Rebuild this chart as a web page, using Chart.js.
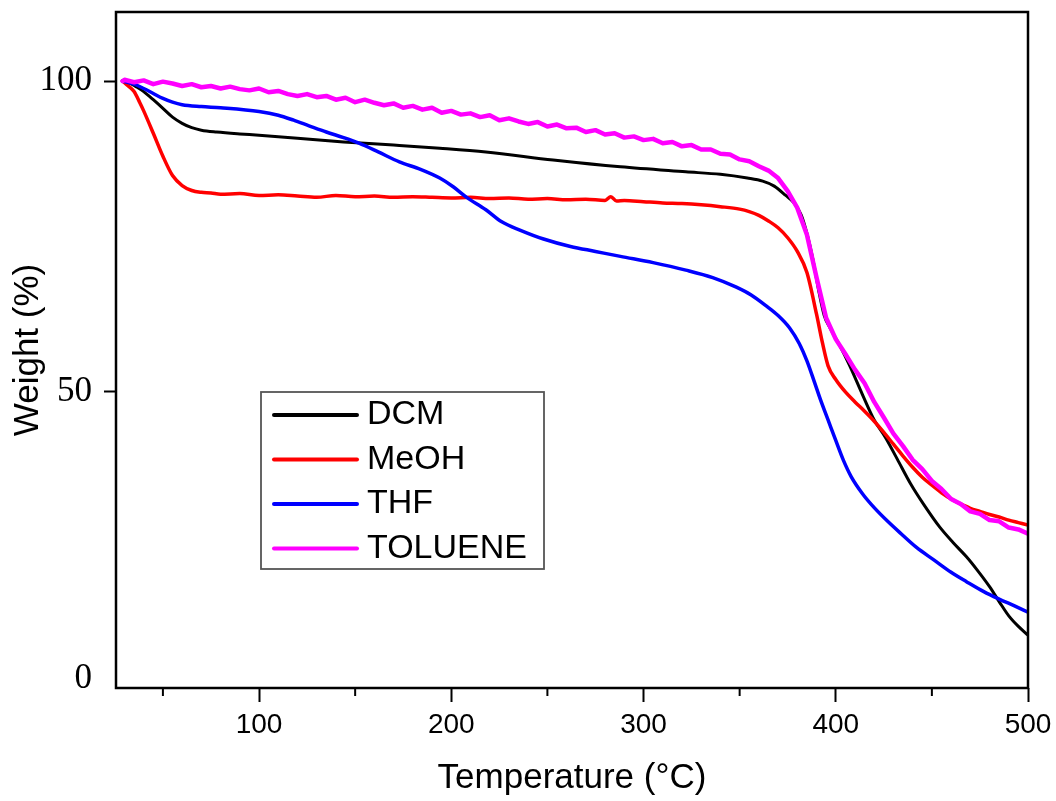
<!DOCTYPE html>
<html><head><meta charset="utf-8">
<script src="https://cdn.jsdelivr.net/npm/chart.js@4.4.1/dist/chart.umd.min.js"></script>
<style>html,body{margin:0;padding:0;background:#fff;}#wrap{width:1056px;height:801px;}</style>
</head><body><div id="wrap"><canvas id="c" width="1056" height="801"></canvas></div>
<script>
const seriesNames = ['DCM', 'MeOH', 'THF', 'TOLUENE'];
const seriesColors = ['#000000', '#ff0000', '#0000ff', '#ff00ff'];

const dcmTemp   = [29, 32, 36, 40, 45, 50, 55, 60, 65, 70, 78, 90, 100, 120, 144, 170, 194, 218, 253, 288, 322, 340, 354, 362, 368, 374, 378, 382, 385, 388, 391, 394, 397, 401, 407, 414, 420, 426, 432, 439, 446, 454, 461, 468, 474, 480, 485, 490, 495, 500];
const dcmWeight = [100, 99.8, 99.1, 98.3, 97.0, 95.6, 94.2, 93.2, 92.5, 92.1, 91.8, 91.5, 91.3, 90.8, 90.2, 89.7, 89.2, 88.6, 87.3, 86.2, 85.4, 85.0, 84.4, 83.9, 83.1, 81.6, 80.5, 78.5, 75.5, 71.5, 66.5, 62.3, 60.3, 58.1, 54.4, 49.5, 45.5, 42.6, 39.2, 35.2, 31.8, 28.3, 25.8, 23.5, 21.2, 18.7, 16.3, 14.0, 12.3, 10.9];

const meohTemp   = [29, 32, 35, 38, 40, 45, 50, 55, 60, 65, 70, 75, 80, 90, 100, 110, 120, 130, 140, 150, 160, 170, 180, 190, 200, 210, 220, 230, 240, 250, 260, 270, 280, 283, 286, 290, 300, 310, 320, 330, 340, 350, 355, 360, 365, 370, 375, 380, 385, 390, 393, 396, 400, 405, 410, 415, 420, 425, 430, 435, 440, 445, 450, 455, 460, 465, 470, 475, 480, 485, 490, 495, 500];
const meohWeight = [100, 99.2, 98.3, 96.5, 95.2, 91.6, 87.9, 84.8, 83.2, 82.4, 82.1, 82.0, 81.8, 81.9, 81.6, 81.7, 81.5, 81.3, 81.6, 81.4, 81.5, 81.3, 81.4, 81.3, 81.2, 81.3, 81.1, 81.2, 81.0, 81.1, 80.9, 81.0, 80.8, 81.4, 80.7, 80.8, 80.6, 80.4, 80.3, 80.1, 79.8, 79.4, 79.0, 78.4, 77.5, 76.4, 74.8, 72.6, 69.2, 62.5, 58.0, 54.2, 52.0, 50.0, 48.4, 46.9, 45.3, 43.5, 41.6, 39.7, 37.9, 36.3, 35.0, 33.8, 32.8, 32.0, 31.3, 30.8, 30.3, 29.9, 29.4, 29.0, 28.6];

const thfTemp   = [29, 35, 40, 45, 50, 55, 60, 70, 80, 100, 110, 118, 126, 135, 144, 152, 162, 173, 184, 194, 201, 208, 218, 226, 236, 248, 262, 275, 288, 305, 322, 336, 348, 356, 364, 370, 376, 381, 385, 389, 392, 396, 400, 404, 408, 414, 420, 427, 434, 442, 451, 460, 468, 477, 485, 493, 500];
const thfWeight = [100, 99.5, 98.8, 98.0, 97.2, 96.6, 96.2, 95.9, 95.7, 95.1, 94.5, 93.7, 92.8, 91.8, 90.9, 90.0, 88.6, 87.0, 85.8, 84.4, 83.0, 81.3, 79.3, 77.4, 76.0, 74.6, 73.4, 72.6, 71.8, 70.8, 69.6, 68.4, 66.9, 65.6, 63.8, 62.3, 60.3, 57.8, 55.0, 51.5, 48.8, 45.5, 42.2, 39.0, 36.4, 33.6, 31.4, 29.2, 27.2, 25.0, 23.0, 21.0, 19.5, 17.9, 16.7, 15.6, 14.6];

const tolTemp   = [29, 30, 35, 40, 45, 50, 55, 60, 65, 70, 75, 80, 85, 90, 95, 100, 105, 110, 115, 120, 125, 130, 135, 140, 145, 150, 155, 160, 165, 170, 175, 180, 185, 190, 195, 200, 205, 210, 215, 220, 225, 230, 235, 240, 245, 250, 255, 260, 265, 270, 275, 280, 285, 290, 295, 300, 305, 310, 315, 320, 325, 330, 335, 340, 345, 350, 355, 360, 365, 370, 375, 380, 385, 390, 395, 400, 405, 410, 415, 420, 425, 430, 435, 440, 445, 450, 455, 460, 465, 470, 475, 480, 485, 490, 495, 500];
const tolWeight = [100.0, 100.2, 99.8, 100.1, 99.5, 99.9, 99.6, 99.2, 99.5, 99.0, 99.2, 98.8, 99.1, 98.7, 98.5, 98.8, 98.2, 98.4, 97.9, 97.6, 97.9, 97.4, 97.6, 97.0, 97.3, 96.6, 97.0, 96.5, 96.1, 96.4, 95.7, 96.0, 95.4, 95.7, 94.9, 95.2, 94.6, 94.8, 94.2, 94.5, 93.7, 94.0, 93.5, 93.1, 93.4, 92.7, 93.0, 92.4, 92.5, 91.8, 92.1, 91.4, 91.6, 90.9, 91.1, 90.5, 90.7, 90.0, 90.2, 89.5, 89.7, 89.0, 89.0, 88.3, 88.2, 87.4, 87.1, 86.3, 85.6, 84.4, 82.3, 79.6, 75.3, 68.4, 61.9, 58.5, 56.1, 53.6, 51.4, 48.4, 45.9, 43.3, 41.3, 39.1, 37.6, 35.7, 34.4, 32.8, 32.0, 30.8, 30.4, 29.4, 29.2, 28.2, 27.9, 27.2];

const xAxisMin = 25.6, xAxisMax = 500;
const yAxisMin = 2.4, yAxisMax = 111.1;
const xTickValues = [100, 200, 300, 400, 500];
const xMinorTickValues = [50, 150, 250, 350, 450];
const yTickValues = [yAxisMin, 50, 100];
const yTickLabels = ['0', '50', '100'];
const xTitle = 'Temperature (°C)';
const yTitle = 'Weight (%)';

const temps = [dcmTemp, meohTemp, thfTemp, tolTemp];
const weights = [dcmWeight, meohWeight, thfWeight, tolWeight];
const widths = [3, 3.5, 3.5, 4.5];

const datasets = seriesNames.map((name, i) => ({
  label: name,
  data: temps[i].map((t, j) => ({x: t, y: weights[i][j]})),
  borderColor: seriesColors[i],
  backgroundColor: seriesColors[i],
  borderWidth: widths[i],
  pointRadius: 0,
  fill: false,
  tension: i === 3 ? 0 : 0.4,
  cubicInterpolationMode: i === 3 ? 'default' : 'monotone',
  borderJoinStyle: 'round',
  borderCapStyle: 'round',
  order: 3 - i
}));

const framePlugin = {
  id: 'frame',
  afterDraw(chart) {
    const ctx = chart.ctx;
    const a = chart.chartArea;
    ctx.save();
    ctx.strokeStyle = '#000';
    ctx.lineWidth = 2.5;
    ctx.strokeRect(a.left, a.top, a.right - a.left, a.bottom - a.top);
    ctx.lineWidth = 2;
    const xs = chart.scales.x;
    xMinorTickValues.forEach(v => {
      const px = xs.getPixelForValue(v);
      ctx.beginPath();
      ctx.moveTo(px, a.bottom);
      ctx.lineTo(px, a.bottom + 8);
      ctx.stroke();
    });
    const bx = a.left + 145, by = 392, bw = 283, bh = 177;
    ctx.fillStyle = '#fff';
    ctx.fillRect(bx, by, bw, bh);
    ctx.strokeStyle = '#555';
    ctx.lineWidth = 1.8;
    ctx.strokeRect(bx, by, bw, bh);
    ctx.font = '34px "Liberation Sans", Arial, sans-serif';
    ctx.textBaseline = 'middle';
    ctx.textAlign = 'left';
    chart.data.datasets.forEach((ds, i) => {
      const ry = by + 23 + i * 44.5;
      ctx.strokeStyle = ds.borderColor;
      ctx.lineWidth = 4;
      ctx.lineCap = 'round';
      ctx.beginPath();
      ctx.moveTo(bx + 13, ry);
      ctx.lineTo(bx + 96, ry);
      ctx.stroke();
      ctx.fillStyle = '#000';
      ctx.fillText(ds.label, bx + 106, ry);
    });
    ctx.restore();
  }
};

new Chart(document.getElementById('c'), {
  type: 'line',
  data: { datasets },
  options: {
    responsive: false,
    animation: false,
    devicePixelRatio: 1,
    layout: { padding: { top: 12, right: 28, bottom: 0, left: 0 } },
    plugins: { legend: { display: false }, tooltip: { enabled: false } },
    scales: {
      x: {
        type: 'linear', min: xAxisMin, max: xAxisMax,
        afterBuildTicks: s => { s.ticks = xTickValues.map(v => ({value: v})); },
        afterFit: s => { s.height = 113; s.paddingLeft = 0; s.paddingRight = 0; },
        ticks: { font: { family: '"Liberation Sans", Arial, sans-serif', size: 28 }, color: '#000', padding: 6, maxRotation: 0, autoSkip: false, callback: v => String(v) },
        grid: { drawOnChartArea: false, drawTicks: true, tickLength: 14, tickWidth: 2, tickColor: '#000' },
        border: { display: false },
        title: { display: true, text: xTitle, color: '#000', font: { family: '"Liberation Sans", Arial, sans-serif', size: 35 }, padding: { top: 0, bottom: 2 } }
      },
      y: {
        type: 'linear', min: yAxisMin, max: yAxisMax,
        afterBuildTicks: s => { s.ticks = yTickValues.map(v => ({value: v})); },
        afterFit: s => { s.width = 116; s.paddingTop = 0; s.paddingBottom = 0; },
        ticks: { font: { family: '"Liberation Serif", "Times New Roman", serif', size: 35, lineHeight: 0.5 }, color: '#000', padding: 12, autoSkip: false,
          callback: (v, i) => i === 0 ? [yTickLabels[0], ''] : yTickLabels[i] },
        grid: { drawOnChartArea: false, drawTicks: true, tickLength: 12, tickWidth: 2, tickColor: c => c.index === 0 ? 'rgba(0,0,0,0)' : '#000' },
        border: { display: false },
        title: { display: true, text: yTitle, color: '#000', font: { family: '"Liberation Sans", Arial, sans-serif', size: 35 }, padding: { top: 7, bottom: 0 } }
      }
    }
  },
  plugins: [framePlugin]
});
</script>
</body></html>
